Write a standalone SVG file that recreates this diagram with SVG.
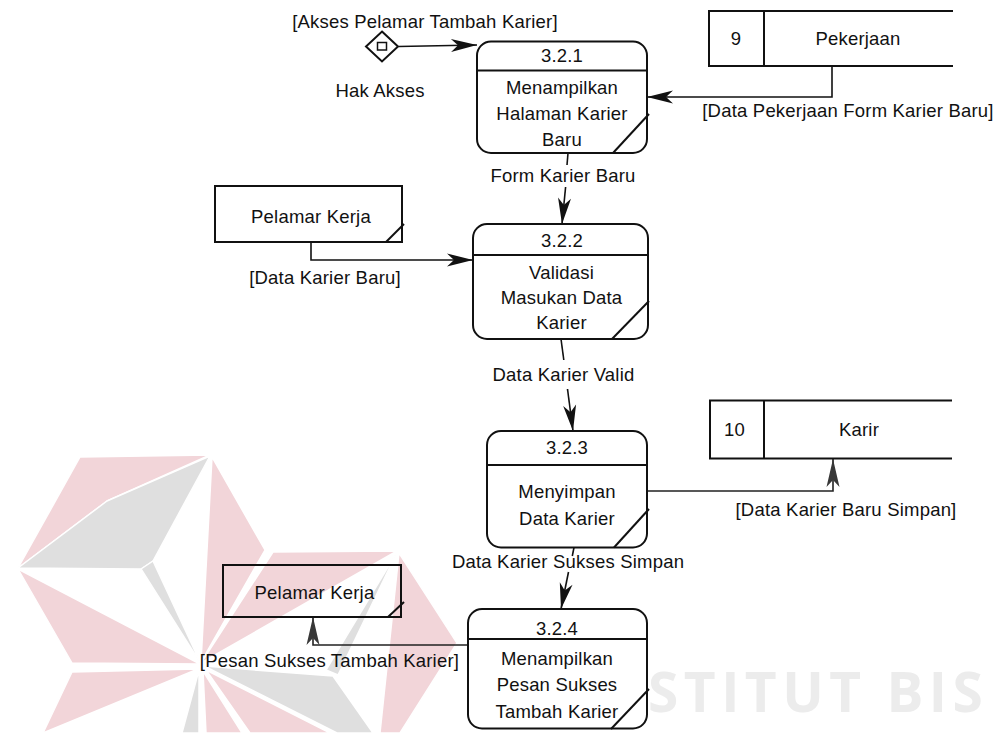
<svg xmlns="http://www.w3.org/2000/svg" width="995" height="733" viewBox="0 0 995 733">
<defs>
<style>
text { font-family: "Liberation Sans", Arial, sans-serif; font-size: 18.5px; fill: #111; letter-spacing: 0.2px; text-anchor: middle; }
.box { fill: none; stroke: #111; stroke-width: 2; }
.proc { fill: #fff; stroke: #111; stroke-width: 2; }
.ln { fill: none; stroke: #111; stroke-width: 1.6; }
.flow { fill: none; stroke: #111; stroke-width: 1.6; marker-end: url(#ah); }
.flow2 { fill: none; stroke: #222; stroke-width: 1.6; marker-end: url(#ah2); }
.wp { fill: #f2d5d9; stroke: #fff; stroke-width: 1.5; stroke-linejoin: round; }
.wg { fill: #dfdfdf; stroke: #fff; stroke-width: 1.5; stroke-linejoin: round; }
text.wm { font-family: "Open Sans", sans-serif; font-weight: 700; font-size: 55px; fill: #ececec; letter-spacing: 5.5px; text-anchor: start; }
</style>
<marker id="ah" viewBox="-28 -8 29 16" refX="0" refY="0" markerWidth="29" markerHeight="16" orient="auto" markerUnits="userSpaceOnUse"><path d="M0,0 L-26,-6.5 L-19,0 L-26,6.5 Z" fill="#111"/></marker>
<marker id="ah2" viewBox="-28 -8 29 16" refX="0" refY="0" markerWidth="29" markerHeight="16" orient="auto" markerUnits="userSpaceOnUse"><path d="M0,0 L-28,-6.5 L-21,0 L-28,6.5 Z" fill="#383838"/></marker>
</defs>
<rect width="995" height="733" fill="#fff"/>

<g id="watermark">
  <polygon class="wp" points="80,457 210,455 107,501 18,568"/>
  <polygon class="wg" points="210,456 107,501 18,568 141,569 153,561"/>
  <polygon class="wg" points="141,569 153,561 201,664"/>
  <polygon class="wp" points="18,569 72,663 200,664"/>
  <polygon class="wp" points="212,457 265,550 201,662"/>
  <polygon class="wp" points="273,552 397,551 201,663"/>
  <polygon class="wg" points="397,552 326,670 338,675"/>
  <polygon class="wg" points="204,666 333,676 373,733 337,733"/>
  <polygon class="wp" points="399,553 457,643 400,733 380,733"/>
  <polygon class="wp" points="206,670 250,733 330,733"/>
  <polygon class="wp" points="72,672 198,669 43,733"/>
  <polygon class="wg" points="199,670 182,733 199,733"/>
  <polygon class="wp" points="203,671 206,733 242,733"/>
  <text class="wm" x="648" y="712">STITUT BIS</text>
</g>

<g id="connectors">
  <path class="flow" d="M398.5,46.5 L477,45"/>
  <path class="flow" d="M832,66 V97 H647"/>
  <path class="ln" d="M568,153 L567,165"/>
  <path class="flow" d="M565.6,187 L562,224"/>
  <path class="flow" d="M311,242 V260 H473"/>
  <path class="ln" d="M561,339 L563.8,360"/>
  <path class="flow" d="M567.5,389 L573,431"/>
  <path class="flow2" d="M647,491 H833 V459"/>
  <path class="ln" d="M574,547.5 L572.3,556"/>
  <path class="flow" d="M568.5,572 L561,609"/>
  <path class="flow2" d="M468,645 H313 V617"/>
  <text x="425" y="27.5">[Akses Pelamar Tambah Karier]</text>
  <text x="848" y="117">[Data Pekerjaan Form Karier Baru]</text>
  <text x="563" y="181.5">Form Karier Baru</text>
  <text x="325" y="284">[Data Karier Baru]</text>
  <text x="563.5" y="380.5">Data Karier Valid</text>
  <text x="846" y="516">[Data Karier Baru Simpan]</text>
  <text x="568" y="568">Data Karier Sukses Simpan</text>
  <text x="329.5" y="667">[Pesan Sukses Tambah Karier]</text>
</g>

<g id="hak-akses">
  <polygon class="box" points="382,31.5 398,46.5 382,61.5 366,46.5"/>
  <rect x="377.5" y="42.5" width="9" height="7.5" fill="none" stroke="#111" stroke-width="1.5"/>
  <text x="380" y="96.5">Hak Akses</text>
</g>

<g id="p-3-2-1">
  <rect class="proc" x="477" y="41.5" width="170" height="111.5" rx="14"/>
  <line class="box" x1="477" y1="70.5" x2="647" y2="70.5"/>
  <line class="box" x1="613" y1="153" x2="649" y2="114"/>
  <text x="562" y="61.5">3.2.1</text>
  <text x="562" y="93.5">Menampilkan</text>
  <text x="562" y="120">Halaman Karier</text>
  <text x="562" y="146">Baru</text>
</g>

<g id="store-9">
  <path class="box" d="M953,11 H709 V66 H953"/>
  <line class="box" x1="764" y1="11" x2="764" y2="66"/>
  <text x="736" y="45">9</text>
  <text x="858" y="45">Pekerjaan</text>
</g>

<g id="ext-pelamar-1">
  <rect class="box" x="215" y="186" width="187" height="56"/>
  <line class="box" x1="386" y1="242" x2="404" y2="224"/>
  <text x="311" y="222.5">Pelamar Kerja</text>
</g>

<g id="p-3-2-2">
  <rect class="proc" x="473" y="224" width="175" height="115" rx="14"/>
  <line class="box" x1="473" y1="255" x2="648" y2="255"/>
  <line class="box" x1="612" y1="339" x2="649" y2="301"/>
  <text x="562" y="247">3.2.2</text>
  <text x="561.5" y="279">Validasi</text>
  <text x="561.5" y="304">Masukan Data</text>
  <text x="561.5" y="329">Karier</text>
</g>

<g id="p-3-2-3">
  <rect class="proc" x="487" y="431" width="160" height="116.5" rx="14"/>
  <line class="box" x1="487" y1="465" x2="647" y2="465"/>
  <line class="box" x1="614" y1="547.5" x2="649" y2="509"/>
  <text x="567" y="454">3.2.3</text>
  <text x="567" y="498">Menyimpan</text>
  <text x="567" y="524.5">Data Karier</text>
</g>

<g id="store-10">
  <path class="box" d="M952,400.5 H710 V458.5 H952"/>
  <line class="box" x1="764" y1="400.5" x2="764" y2="458.5"/>
  <text x="734.5" y="436">10</text>
  <text x="859" y="436">Karir</text>
</g>

<g id="ext-pelamar-2">
  <rect class="box" x="223" y="565" width="178" height="52"/>
  <line class="box" x1="388" y1="617" x2="404" y2="602"/>
  <text x="314.5" y="599">Pelamar Kerja</text>
</g>

<g id="p-3-2-4">
  <rect class="proc" x="468" y="609" width="179" height="119.5" rx="14"/>
  <line class="box" x1="468" y1="639" x2="647" y2="639"/>
  <line class="box" x1="611" y1="729" x2="649" y2="689"/>
  <text x="557" y="635">3.2.4</text>
  <text x="557" y="664.5">Menampilkan</text>
  <text x="557" y="691">Pesan Sukses</text>
  <text x="557" y="717.5">Tambah Karier</text>
</g>
</svg>
